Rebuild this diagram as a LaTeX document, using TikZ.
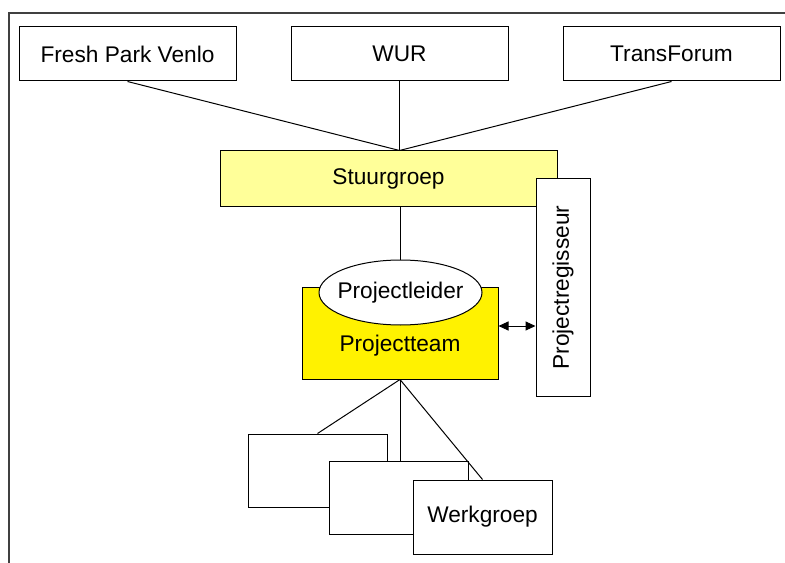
\documentclass[tikz,border=0pt]{standalone}
\usepackage{fontspec}
\setmainfont{Liberation Sans}
\usetikzlibrary{arrows.meta,shapes.geometric}
\definecolor{framegray}{RGB}{64,64,64}
\definecolor{paleyellow}{RGB}{255,255,153}

\begin{document}
\begin{tikzpicture}[x=0.75pt, y=-0.75pt, font=\fontsize{17}{20}\selectfont,
		box/.style={draw, line width=0.75pt, fill=white, inner sep=0pt},
		partner/.style={box, minimum width=162.75pt, minimum height=40.5pt},
		werk/.style={box, minimum width=104.25pt, minimum height=54.75pt},
		link/.style={line width=0.75pt}]
			\useasboundingbox (0,0) rectangle (785,563);
			\draw[line width=1.5pt, framegray] (9,563) -- (9,13) -- (785,13);
			\node[partner] (fpv) at (127.5,54) {Fresh Park Venlo};
			\node[partner] (wur) at (399.5,54) {WUR};
			\node[partner] (tf) at (671.5,54) {TransForum};
			\node[box, fill=paleyellow, minimum width=252.75pt, minimum height=41.25pt] (stuur) at (388.5,178.5) {Stuurgroep};
			\node[box, minimum width=40.5pt, minimum height=162.75pt] (regis) at (563,287.5) {\rotatebox{90}{Projectregisseur}};
			\node[box, fill=yellow, minimum width=147pt, minimum height=69pt] (team) at (400,333) {};
			\node (teamtxt) at (400,346) {Projectteam};
			\node[box, ellipse, minimum width=122.25pt, minimum height=48.75pt] (leider) at (400.5,292.5) {\makebox[0pt]{Projectleider}};
			\node[werk] (wg1) at (317.5,470.5) {};
			\node[werk] (wg2) at (398.5,497.5) {};
			\node[werk, minimum height=55.5pt] (wg3) at (482.5,517) {Werkgroep};
			\coordinate (hub) at (stuur.north -| wur.south);
			\path[link] (fpv.south) edge (hub)
				(wur.south) edge (hub)
				(tf.south) edge (hub)
				(leider.north |- stuur.south) edge (leider.north);
			\path[link] (team.south) edge (wg1.north)
				(team.south) edge (team.south |- wg2.north)
				(team.south) edge (wg3.north);
			\draw[link, {Triangle[length=7.5pt,width=6.75pt]}-{Triangle[length=7.5pt,width=6.75pt]}] ([yshift=5.25pt]team.east) -- ([yshift=5.25pt]team.east -| regis.west);
		\end{tikzpicture}
\end{document}
